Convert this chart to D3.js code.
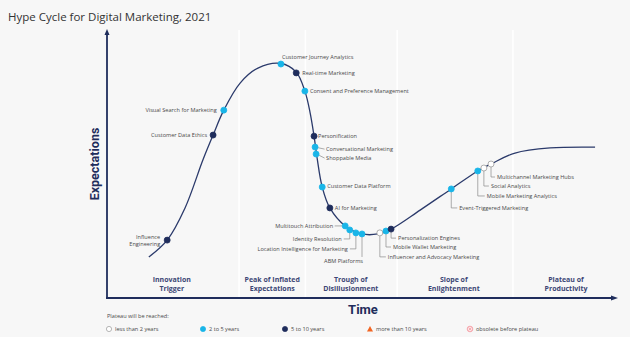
<!DOCTYPE html>
<html><head><meta charset="utf-8">
<script src="https://cdn.jsdelivr.net/npm/d3@7"></script>
<style>
html,body{margin:0;padding:0;background:#f7f7f7;}
svg{display:block;font-family:"Open Sans","Noto Sans",sans-serif;}
</style></head>
<body>
<svg id="c" width="630" height="337"></svg>
<script>
// ---- data ----
const title = "Hype Cycle for Digital Marketing, 2021";
const curveX = [8.2,11.8,15.3,18.8,20.8,22.9,26.1,29.6,34.1,37.1,38.8,39.8,40.6,41.2,42.2,43.7,46.7,50.0,53.1,55.7,61.4,67.5,72.7,75.3,80.0,86.9,95.7];
const curveY = [15.3,21.6,33.6,51.5,60.8,70.1,80.2,85.8,87.5,84.3,77.2,69.4,60.4,52.2,41.4,33.6,26.9,23.9,23.9,25.7,32.8,40.7,47.4,50.0,54.1,56.0,56.3];
const techNames = ["Influence|Engineering","Customer Data Ethics","Visual Search for Marketing","Customer Journey Analytics","Real-time Marketing","Consent and Preference Management","Personification","Conversational Marketing","Shoppable Media","Customer Data Platform","AI for Marketing","Multitouch Attribution","Identity Resolution","Location Intelligence for Marketing","ABM Platforms","Influencer and Advocacy Marketing","Mobile Wallet Marketing","Personalization Engines","Event-Triggered Marketing","Mobile Marketing Analytics","Social Analytics","Multichannel Marketing Hubs"];
const techX = [11.8,20.8,22.9,34.1,37.1,38.8,40.6,40.8,41.0,42.2,43.7,46.7,47.6,48.8,50.0,53.5,54.7,55.7,67.5,72.7,73.9,75.3];
const techY = [21.6,60.8,70.1,87.3,84.0,77.2,60.4,56.3,53.7,41.4,33.6,26.9,25.4,24.3,23.9,24.3,25.0,25.7,40.7,47.4,48.5,50.0];
// 0 = less than 2 years, 1 = 2 to 5 years, 2 = 5 to 10 years
const techCat = [2,2,1,1,2,1,2,1,1,1,2,1,1,1,1,0,1,2,1,1,0,0];
const phaseNames = ["Innovation|Trigger","Peak of Inflated|Expectations","Trough of|Disillusionment","Slope of|Enlightenment","Plateau of|Productivity"];
const phaseCenters = [12.7,32.4,47.8,68.0,90.0];
const phaseBounds = [25.9,38.9,56.9,79.6];
const legendLabels = ["less than 2 years","2 to 5 years","5 to 10 years","more than 10 years","obsolete before plateau"];

// ---- layout (label placement, px offsets from dot) ----
// [anchor, dx, dy, leaderType]  leader: 0 none, 1 straight, 2 elbow, 3 vertical
const labelLayout = [
 ["end",-7,-3,0],["end",-6,0,0],["end",-7,0,0],["start",1,-7,0],["start",6,0,0],["start",5,0,0],["start",4,0,0],
 ["start",11,2,1],["start",10,4,1],["start",5,-1,0],["start",5,0,0],["end",-12,0,1],["end",-8,9,2],["end",-8,16,2],
 ["end",1,27,3],["start",8,24,2],["start",7,16,2],["start",7,9,2],["start",8,19,2],["start",9,25,2],["start",7,18,2],["start",6,13,2]
];

const svg = d3.select("#c");
const x = d3.scaleLinear().domain([0,100]).range([107,617]);
const y = d3.scaleLinear().domain([0,100]).range([298,30]);
const navy = "#1f2d5c", cyan = "#19b5e8", txt = "#4a4a4a";
const catFill = ["#ffffff", cyan, navy];
const catStroke = ["#9a9a9a", cyan, navy];

// title
svg.append("text").attr("x",8).attr("y",21).attr("font-size",11.5).attr("fill","#333").text(title);

// phase separators
svg.selectAll("line.sep").data(phaseBounds).join("line")
  .attr("x1",d=>x(d)).attr("x2",d=>x(d)).attr("y1",30).attr("y2",297)
  .attr("stroke","#ffffff").attr("stroke-width",1.6);

// axes
const axisG = svg.append("g");
axisG.append("line").attr("x1",x(0)).attr("x2",x(0)).attr("y1",y(100)+4).attr("y2",y(0)).attr("stroke",navy).attr("stroke-width",1.8);
axisG.append("line").attr("x1",x(0)-1).attr("x2",x(100)-4).attr("y1",y(0)).attr("y2",y(0)).attr("stroke",navy).attr("stroke-width",1.8);
axisG.append("path").attr("d",`M${x(0)-2.5},${y(100)+5}L${x(0)},${y(100)-1}L${x(0)+2.5},${y(100)+5}Z`).attr("fill",navy);
axisG.append("path").attr("d",`M${x(100)-6},${y(0)-2.5}L${x(100)+1},${y(0)}L${x(100)-6},${y(0)+2.5}Z`).attr("fill",navy);

svg.append("text").attr("transform",`translate(${x(0)-8},${(y(0)+y(100))/2}) rotate(-90)`)
  .attr("text-anchor","middle").attr("font-size",12.5).attr("font-weight","bold").attr("fill",navy)
  .attr("font-family","Roboto,'Open Sans',sans-serif").text("Expectations");
svg.append("text").attr("x",363).attr("y",314).attr("text-anchor","middle").attr("font-size",13)
  .attr("font-weight","bold").attr("fill",navy).attr("font-family","Roboto,'Open Sans',sans-serif").text("Time");

// phase labels
phaseNames.forEach((p,i)=>{
  const t = svg.append("text").attr("text-anchor","middle").attr("font-size",7).attr("font-weight","bold").attr("fill","#3c4675");
  p.split("|").forEach((l,j)=>t.append("tspan").attr("x",x(phaseCenters[i])).attr("y",282+j*9).text(l));
});

// curve
const pts = curveX.map((d,i)=>[x(d),y(curveY[i])]);
svg.append("path").attr("d",d3.line().curve(d3.curveCatmullRom.alpha(0.5))(pts))
  .attr("fill","none").attr("stroke","#2b3a6b").attr("stroke-width",1.3);

// leaders & labels
const lg = svg.append("g").attr("stroke","#8a8a8a").attr("stroke-width",0.7).attr("fill","none");
techNames.forEach((n,i)=>{
  const cx = x(techX[i]), cy = y(techY[i]);
  const [anc,dx,dy,lt] = labelLayout[i];
  const tx = cx+dx, ty = cy+dy;
  const sgn = anc==="start"?1:-1;
  if(lt===1){ lg.append("line").attr("x1",cx+sgn*3).attr("y1",cy+dy*0.3).attr("x2",tx-sgn*1.5).attr("y2",ty); }
  if(lt===2){ lg.append("path").attr("d",`M${cx},${cy+3}V${ty}H${tx-sgn*2}`); }
  if(lt===3){ lg.append("line").attr("x1",cx).attr("y1",cy+3).attr("x2",cx).attr("y2",ty-4); }
  const t = svg.append("text").attr("text-anchor",anc).attr("font-size",5.6).attr("fill",txt);
  const lines = n.split("|");
  lines.forEach((l,j)=>t.append("tspan").attr("x",tx).attr("y",ty+2+j*6.5).text(l));
});

// dots
svg.selectAll("circle.tech").data(techNames).join("circle")
  .attr("cx",(d,i)=>x(techX[i])).attr("cy",(d,i)=>y(techY[i])).attr("r",3)
  .attr("fill",(d,i)=>catFill[techCat[i]]).attr("stroke",(d,i)=>catStroke[techCat[i]]).attr("stroke-width",0.8);

// legend
svg.append("text").attr("x",107).attr("y",318).attr("font-size",5.6).attr("fill",txt).text("Plateau will be reached:");
const legX = [109,203,285,370,470];
const ly = 329;
legendLabels.forEach((l,i)=>{
  const g = svg.append("g");
  if(i<3) g.append("circle").attr("cx",legX[i]).attr("cy",ly).attr("r",2.6).attr("fill",catFill[i]).attr("stroke",catStroke[i]).attr("stroke-width",0.7);
  if(i===3) g.append("path").attr("d",`M${legX[i]-3},${ly+2.5}L${legX[i]},${ly-3}L${legX[i]+3},${ly+2.5}Z`).attr("fill","#f26522");
  if(i===4){
    g.append("circle").attr("cx",legX[i]).attr("cy",ly).attr("r",2.8).attr("fill","#fde4e6").attr("stroke","#f2939b").attr("stroke-width",0.8);
    g.append("path").attr("d",`M${legX[i]-1.4},${ly-1.4}L${legX[i]+1.4},${ly+1.4}M${legX[i]+1.4},${ly-1.4}L${legX[i]-1.4},${ly+1.4}`).attr("stroke","#f2939b").attr("stroke-width",0.7);
  }
  g.append("text").attr("x",legX[i]+6).attr("y",ly+2).attr("font-size",5.6).attr("fill",txt).text(l);
});
</script>
</body></html>
